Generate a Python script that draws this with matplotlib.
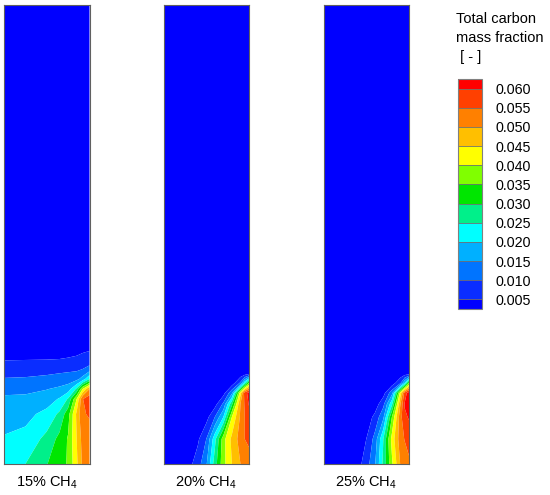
import numpy as np
import matplotlib
matplotlib.use('Agg')
import matplotlib.pyplot as plt
from matplotlib.colors import ListedColormap, BoundaryNorm
from matplotlib.cm import ScalarMappable

plt.rcParams['font.family'] = ['Liberation Sans', 'DejaVu Sans']
plt.rcParams['mathtext.fontset'] = 'custom'
plt.rcParams['mathtext.rm'] = 'Liberation Sans'
plt.rcParams['mathtext.it'] = 'Liberation Sans:italic'

# contour levels / colour bands (carbon mass fraction)
LEVELS = [0.0, 0.005, 0.010, 0.015, 0.020, 0.025, 0.030, 0.035,
          0.040, 0.045, 0.050, 0.055, 0.060, 0.100]
TICKS = [0.005, 0.010, 0.015, 0.020, 0.025, 0.030, 0.035,
         0.040, 0.045, 0.050, 0.055, 0.060]
BAND_COLORS = ['#0000ff', '#0a2dff', '#0074ff', '#00b0ff', '#00ffff',
               '#00f08a', '#00e600', '#80ff00', '#ffff00', '#ffbf00',
               '#ff8000', '#ff4000', '#ff0000']

LABELS = ['15% CH$_4$', '20% CH$_4$', '25% CH$_4$']

# panel 1 (15% CH4): rows = height above bottom [px], columns = radial position
P1_X = [0, 0.25, 0.5, 0.65, 0.75, 0.85, 0.92, 1.0]
P1_H = [0, 25, 50, 65, 75, 85, 95, 105, 120, 459]
P1_Z = [
    [0.0215, 0.0250, 0.0298, 0.0330, 0.0355, 0.0440, 0.0510, 0.0530],
    [0.0205, 0.0215, 0.0265, 0.0315, 0.0355, 0.0450, 0.0520, 0.0530],
    [0.0175, 0.0185, 0.0215, 0.0260, 0.0330, 0.0460, 0.0545, 0.0555],
    [0.0162, 0.0163, 0.0175, 0.0205, 0.0255, 0.0400, 0.0548, 0.0580],
    [0.0130, 0.0135, 0.0148, 0.0160, 0.0175, 0.0260, 0.0400, 0.0500],
    [0.0103, 0.0105, 0.0113, 0.0120, 0.0125, 0.0135, 0.0170, 0.0250],
    [0.0075, 0.0078, 0.0080, 0.0085, 0.0088, 0.0090, 0.0100, 0.0120],
    [0.0046, 0.0047, 0.0048, 0.0050, 0.0052, 0.0055, 0.0060, 0.0065],
    [0.0030, 0.0030, 0.0030, 0.0030, 0.0030, 0.0032, 0.0035, 0.0037],
    [0.0010, 0.0010, 0.0010, 0.0010, 0.0010, 0.0010, 0.0010, 0.0010],
]

# panel 2 (20% CH4)
P2_X = [0, 0.3, 0.4, 0.5, 0.6, 0.7, 0.8, 0.9, 0.95, 1.0]
P2_H = [0, 25, 47, 60, 71, 81, 90, 100, 459]
P2_Z = [
    [0.002, 0.0035, 0.0076, 0.0142, 0.0275, 0.0383, 0.0450, 0.0500, 0.0515, 0.0530],
    [0.002, 0.0020, 0.0040, 0.0100, 0.0233, 0.0380, 0.0463, 0.0522, 0.0550, 0.0560],
    [0.002, 0.0020, 0.0020, 0.0030, 0.0100, 0.0200, 0.0400, 0.0508, 0.0550, 0.0570],
    [0.002, 0.0020, 0.0020, 0.0020, 0.0030, 0.0110, 0.0288, 0.0500, 0.0556, 0.0605],
    [0.002, 0.0020, 0.0020, 0.0020, 0.0020, 0.0030, 0.0140, 0.0433, 0.0575, 0.0620],
    [0.002, 0.0020, 0.0020, 0.0020, 0.0020, 0.0020, 0.0020, 0.0110, 0.0233, 0.0350],
    [0.002, 0.0020, 0.0020, 0.0020, 0.0020, 0.0020, 0.0020, 0.0020, 0.0030, 0.0050],
    [0.002, 0.0020, 0.0020, 0.0020, 0.0020, 0.0020, 0.0020, 0.0020, 0.0020, 0.0020],
    [0.001, 0.0010, 0.0010, 0.0010, 0.0010, 0.0010, 0.0010, 0.0010, 0.0010, 0.0010],
]

# panel 3 (25% CH4)
P3_X = [0, 0.3, 0.4, 0.5, 0.6, 0.7, 0.8, 0.9, 0.95, 1.0]
P3_H = [0, 25, 47, 60, 71, 81, 90, 100, 459]
P3_Z = [
    [0.002, 0.0025, 0.0030, 0.0076, 0.0143, 0.0263, 0.0390, 0.0504, 0.0520, 0.0540],
    [0.002, 0.0020, 0.0020, 0.0050, 0.0117, 0.0250, 0.0417, 0.0529, 0.0553, 0.0570],
    [0.002, 0.0020, 0.0020, 0.0020, 0.0063, 0.0140, 0.0350, 0.0533, 0.0590, 0.0605],
    [0.002, 0.0020, 0.0020, 0.0020, 0.0020, 0.0086, 0.0238, 0.0500, 0.0605, 0.0630],
    [0.002, 0.0020, 0.0020, 0.0020, 0.0020, 0.0030, 0.0133, 0.0425, 0.0572, 0.0630],
    [0.002, 0.0020, 0.0020, 0.0020, 0.0020, 0.0020, 0.0020, 0.0094, 0.0200, 0.0350],
    [0.002, 0.0020, 0.0020, 0.0020, 0.0020, 0.0020, 0.0020, 0.0020, 0.0030, 0.0040],
    [0.002, 0.0020, 0.0020, 0.0020, 0.0020, 0.0020, 0.0020, 0.0020, 0.0020, 0.0020],
    [0.001, 0.0010, 0.0010, 0.0010, 0.0010, 0.0010, 0.0010, 0.0010, 0.0010, 0.0010],
]

PANELS = [(P1_X, P1_H, P1_Z), (P2_X, P2_H, P2_Z), (P3_X, P3_H, P3_Z)]
PANEL_LEFT = [4, 163.5, 323.5]   # px

W, H = 550, 495
fig = plt.figure(figsize=(W / 100, H / 100), dpi=100)

for i, (xs, hs, zs) in enumerate(PANELS):
    ax = fig.add_axes([PANEL_LEFT[i] / W, 31 / H, 85.5 / W, 459 / H])
    ax.contourf(xs, hs, np.array(zs), levels=LEVELS, colors=BAND_COLORS, antialiased=True)
    ax.set_xlim(0, 1)
    ax.set_ylim(0, 459)
    ax.set_xticks([])
    ax.set_yticks([])
    for sp in ax.spines.values():
        sp.set_color('#606060')
        sp.set_linewidth(0.8)
    fig.text((PANEL_LEFT[i] + 42.75) / W, 8 / H, LABELS[i], ha='center',
             va='baseline', fontsize=10.5)

# colour legend: half-height boxes at both ends
bounds = [0.0025] + TICKS + [0.0625]
cmap = ListedColormap(BAND_COLORS)
sm = ScalarMappable(norm=BoundaryNorm(bounds, cmap.N), cmap=cmap)
cax = fig.add_axes([458 / W, (H - 309) / H, 24 / W, 230 / H])
cb = fig.colorbar(sm, cax=cax, spacing='proportional',
                  ticks=TICKS, drawedges=True, format='%.3f')
cb.minorticks_off()
cb.outline.set_edgecolor('#808080')
cb.outline.set_linewidth(0.8)
cb.dividers.set_color('#707070')
cb.dividers.set_linewidth(0.6)
cax.tick_params(which='both', length=0, pad=10, labelsize=10.3)

fig.text(456 / W, 1 - 12 / H, 'Total carbon\nmass fraction\n [ - ]', ha='left',
         va='top', fontsize=10.5, linespacing=1.45)

fig.savefig('out.png', dpi=100)
